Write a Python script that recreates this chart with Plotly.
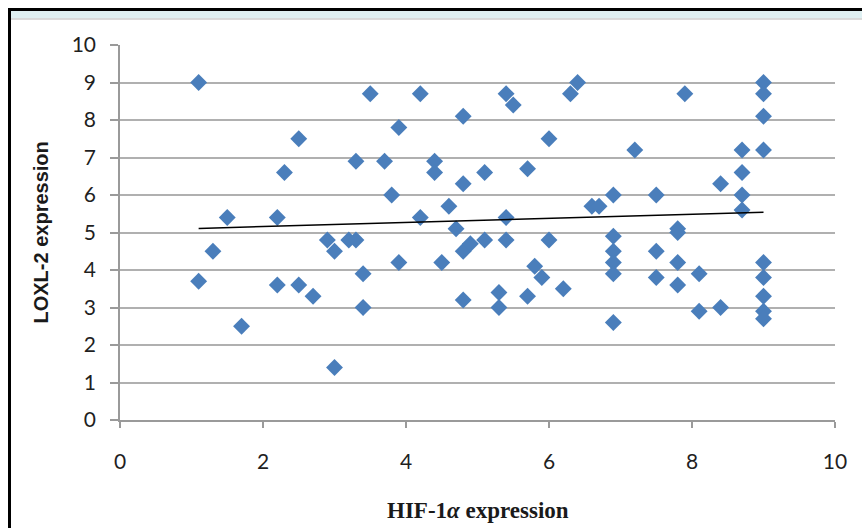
import plotly.graph_objects as go

# HIF-1a expression (x) and LOXL-2 expression (y)
hif = [1.1, 1.1, 1.3, 1.5, 1.7, 2.2, 2.2, 2.3, 2.5, 2.5, 2.7, 2.9, 3.0, 3.0, 3.2, 3.3, 3.3, 3.4, 3.4, 3.5,
       3.7, 3.8, 3.9, 3.9, 4.2, 4.2, 4.4, 4.4, 4.5, 4.6, 4.7, 4.8, 4.8, 4.8, 4.8, 4.9, 5.1, 5.1, 5.3, 5.3,
       5.4, 5.5, 5.4, 5.4, 5.7, 5.7, 5.8, 5.9, 6.0, 6.0, 6.2, 6.3, 6.4, 6.6, 6.7, 6.9, 6.9, 6.9, 6.9, 6.9,
       6.9, 7.2, 7.5, 7.5, 7.5, 7.8, 7.8, 7.8, 7.8, 7.9, 8.1, 8.1, 8.4, 8.4, 8.7, 8.7, 8.7, 8.7, 9.0, 9.0,
       9.0, 9.0, 9.0, 9.0, 9.0, 9.0, 9.0]
loxl = [9.0, 3.7, 4.5, 5.4, 2.5, 5.4, 3.6, 6.6, 7.5, 3.6, 3.3, 4.8, 4.5, 1.4, 4.8, 4.8, 6.9, 3.9, 3.0, 8.7,
        6.9, 6.0, 7.8, 4.2, 8.7, 5.4, 6.9, 6.6, 4.2, 5.7, 5.1, 8.1, 6.3, 4.5, 3.2, 4.7, 6.6, 4.8, 3.4, 3.0,
        8.7, 8.4, 5.4, 4.8, 6.7, 3.3, 4.1, 3.8, 7.5, 4.8, 3.5, 8.7, 9.0, 5.7, 5.7, 6.0, 4.9, 4.5, 4.2, 3.9,
        2.6, 7.2, 6.0, 4.5, 3.8, 5.1, 5.0, 4.2, 3.6, 8.7, 3.9, 2.9, 6.3, 3.0, 7.2, 6.6, 6.0, 5.6, 9.0, 8.7,
        8.1, 7.2, 4.2, 3.8, 3.3, 2.9, 2.7]

# linear trend line end points
trend_x = [1.1, 9.0]
trend_y = [5.11, 5.54]

x_ticks = [0, 2, 4, 6, 8, 10]
y_ticks = [0, 1, 2, 3, 4, 5, 6, 7, 8, 9, 10]

W, H = 862, 528
L, R, T, B = 120, 27, 45, 108
pw, ph = W - L - R, H - T - B

def px(xp):
    return (xp - L) / pw

def py(yp):
    return (H - B - yp) / ph

fig = go.Figure()
fig.add_trace(go.Scatter(
    x=hif, y=loxl, mode="markers",
    marker=dict(symbol="diamond", size=13, color="#4a7ebb", line=dict(width=0)),
    showlegend=False, hoverinfo="x+y"))
fig.add_trace(go.Scatter(
    x=trend_x, y=trend_y, mode="lines",
    line=dict(color="black", width=1.5), showlegend=False, hoverinfo="skip"))

tick_font = dict(family="Lato, 'Liberation Sans', sans-serif", size=21, color="#1f1f1f")

fig.update_layout(
    width=W, height=H,
    margin=dict(l=L, r=R, t=T, b=B, pad=0),
    paper_bgcolor="white", plot_bgcolor="white",
    xaxis=dict(range=[0, 10], tickvals=x_ticks, ticks="outside", ticklen=6, tickcolor="#9a9a9a",
               tickwidth=1.5, showgrid=False, zeroline=False, showline=True, linecolor="#9a9a9a",
               linewidth=1.5, tickfont=tick_font, ticklabelstandoff=16, fixedrange=True),
    yaxis=dict(range=[0, 10], tickvals=y_ticks, ticks="outside", ticklen=8, tickcolor="#9a9a9a",
               tickwidth=1.5, showgrid=True, gridcolor="#b0b0b0", gridwidth=1.5, zeroline=False,
               showline=True, linecolor="#9a9a9a", linewidth=1.5, tickfont=tick_font,
               ticklabelstandoff=10, fixedrange=True),
    annotations=[
        dict(text="<b>HIF-1<i>α</i> expression</b>", x=0.5, y=py(510), xref="paper", yref="paper",
             xanchor="center", yanchor="middle", showarrow=False,
             font=dict(family="'Liberation Serif', 'DejaVu Serif', serif", size=23, color="#1a1a1a")),
        dict(text="<b>LOXL-2 expression</b>", x=px(40), y=0.5, xref="paper", yref="paper",
             xanchor="center", yanchor="middle", textangle=-90, showarrow=False,
             font=dict(family="'Liberation Sans', Arial, sans-serif", size=20, color="#1a1a1a")),
    ],
    shapes=[
        # light header strip
        dict(type="rect", xref="paper", yref="paper", x0=px(11), x1=px(W + 5), y0=py(18.5), y1=py(11),
             fillcolor="#dff0f2", line=dict(width=0), layer="above"),
        dict(type="line", xref="paper", yref="paper", x0=px(11), x1=px(W + 5), y0=py(19), y1=py(19),
             line=dict(color="#d0d0d0", width=1.5), layer="above"),
        # black frame (top and left)
        dict(type="line", xref="paper", yref="paper", x0=px(8), x1=px(W + 5), y0=py(9.5), y1=py(9.5),
             line=dict(color="black", width=3), layer="above"),
        dict(type="line", xref="paper", yref="paper", x0=px(9.5), x1=px(9.5), y0=py(8), y1=py(H + 5),
             line=dict(color="black", width=3), layer="above"),
    ],
)

fig.write_html("out.html", config={"displayModeBar": False},
               post_script="document.body.style.margin='0';document.documentElement.style.margin='0';")
